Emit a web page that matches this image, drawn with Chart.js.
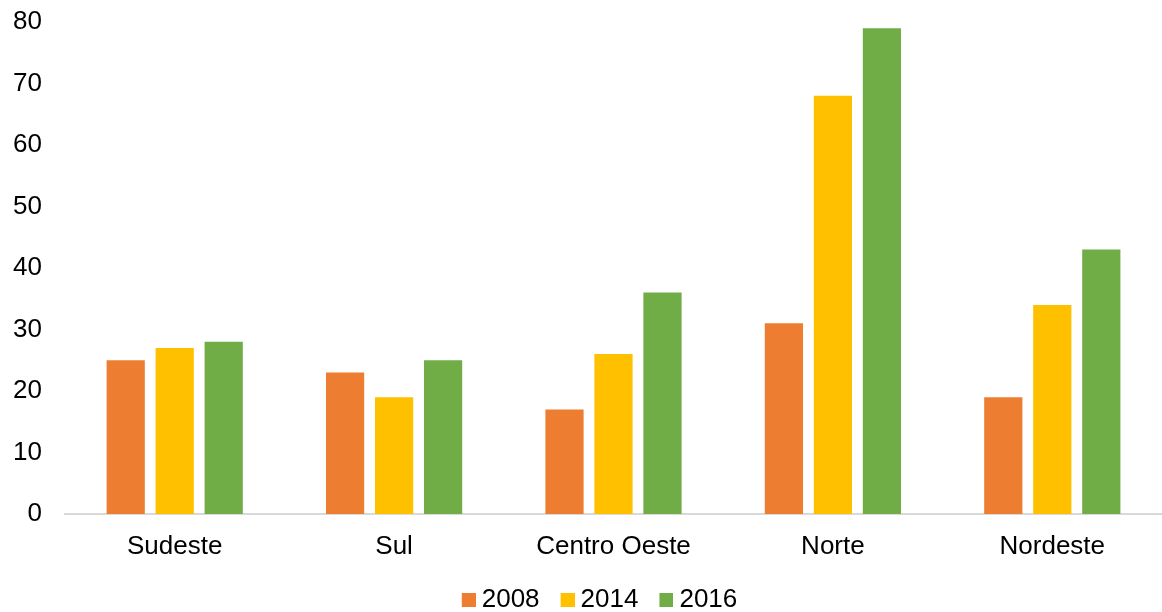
<!DOCTYPE html>
<html>
<head>
<meta charset="utf-8">
<script src="https://cdn.jsdelivr.net/npm/chart.js@4"></script>
<style>
  html, body { margin: 0; padding: 0; background: #fff; }
  #wrap { width: 1162px; height: 612px; position: relative; }
</style>
</head>
<body>
<div id="wrap"><canvas id="regioes"></canvas></div>
<script>
const categories = ['Sudeste', 'Sul', 'Centro Oeste', 'Norte', 'Nordeste'];
const years = ['2008', '2014', '2016'];
const values2008 = [25, 23, 17, 31, 19];
const values2014 = [27, 19, 26, 68, 34];
const values2016 = [28, 25, 36, 79, 43];
const colors = ['#ED7D31', '#FFC000', '#70AD47'];

Chart.defaults.font.family = '"Liberation Sans", Arial, sans-serif';
Chart.defaults.color = '#000';

const series = [values2008, values2014, values2016];

// legend square sits close to its text, so draw it as a small image
function legendSquare(color) {
    const c = document.createElement('canvas');
    c.width = 28; c.height = 14;
    const ctx = c.getContext('2d');
    ctx.fillStyle = color;
    ctx.fillRect(14, 0, 14, 14);
    return c;
}

// legend in the original is a bit right of centre
const legendShift = {
    id: 'legendShift',
    afterLayout(chart) {
        chart.legend.left += 15;
        chart.legend.right += 15;
    }
};

new Chart(document.getElementById('regioes'), {
    type: 'bar',
    data: {
        labels: categories,
        datasets: series.map((vals, i) => ({
            label: years[i],
            data: vals,
            backgroundColor: colors[i],
            categoryPercentage: 0.67,
            barPercentage: 0.78
        }))
    },
    options: {
        responsive: true,
        maintainAspectRatio: false,
        animation: false,
        layout: { padding: { top: 22, right: 0, left: 0, bottom: 0 } },
        plugins: {
            tooltip: { enabled: false },
            legend: {
                position: 'bottom',
                maxHeight: 39,
                labels: {
                    usePointStyle: true,
                    pointStyleWidth: 14,
                    padding: 14,
                    font: { size: 26 },
                    color: '#000',
                    generateLabels: (chart) => {
                        const items = Chart.defaults.plugins.legend.labels.generateLabels(chart);
                        items.forEach((it, i) => { it.pointStyle = legendSquare(colors[i]); });
                        return items;
                    }
                }
            }
        },
        scales: {
            x: {
                grid: { display: false, drawTicks: false },
                border: { color: '#D9D9D9', width: 2 },
                ticks: { font: { size: 26 }, padding: 17, color: '#000' },
                afterFit: (scale) => { scale.height = 59; }
            },
            y: {
                min: 0,
                max: 80,
                ticks: { stepSize: 10, font: { size: 26 }, padding: 23, color: '#000' },
                grid: { display: false, drawTicks: false },
                border: { display: false },
                afterFit: (scale) => { scale.width = 65; scale.paddingTop = 0; }
            }
        }
    },
    plugins: [legendShift]
});
</script>
</body>
</html>
